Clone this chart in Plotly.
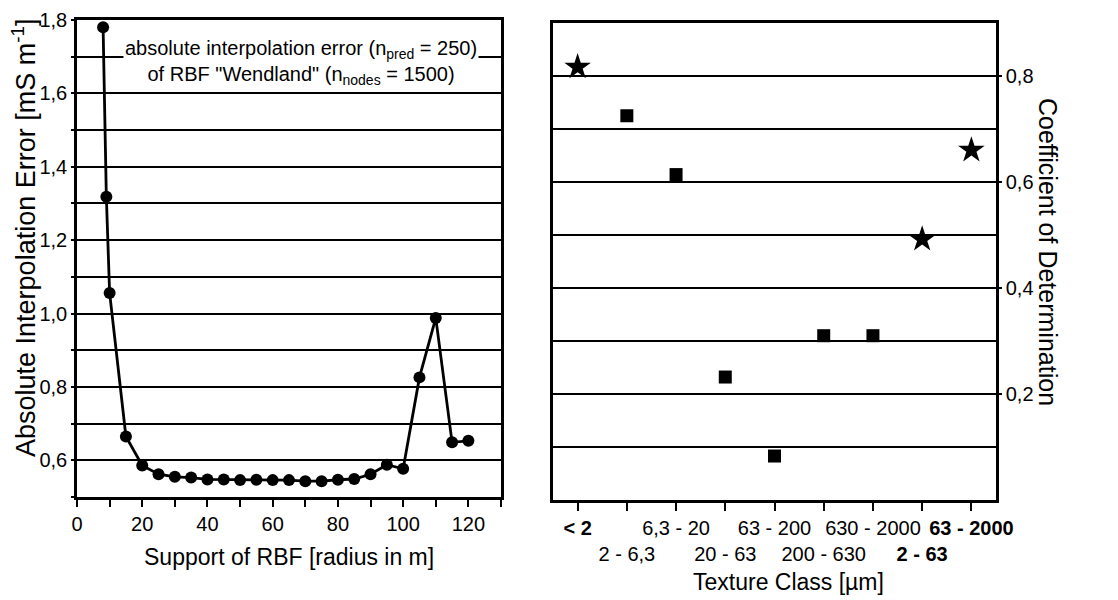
import plotly.graph_objects as go

# Left panel: support radius vs absolute interpolation error
radius = [8, 9, 10, 15, 20, 25, 30, 35, 40, 45, 50, 55, 60, 65, 70, 75, 80, 85, 90, 95, 100, 105, 110, 115, 120]
abs_error = [1.78, 1.318, 1.056, 0.665, 0.586, 0.562, 0.555, 0.553, 0.548, 0.548, 0.546, 0.547, 0.546, 0.546,
             0.543, 0.543, 0.547, 0.549, 0.562, 0.588, 0.577, 0.826, 0.988, 0.649, 0.653]

# Right panel: texture classes vs coefficient of determination
texture_classes = ["< 2", "2 - 6,3", "6,3 - 20", "20 - 63", "63 - 200", "200 - 630", "630 - 2000", "2 - 63", "63 - 2000"]
class_bold = [True, False, False, False, False, False, False, True, True]
class_row2 = [False, True, False, True, False, True, False, True, False]
r2_values = [0.817, 0.725, 0.614, 0.232, 0.083, 0.31, 0.31, 0.492, 0.66]
marker_kind = ["star", "square", "square", "square", "square", "square", "square", "star", "star"]

FONT = "Liberation Sans, Arial, sans-serif"
W, H = 1118, 600

fig = go.Figure()

fig.add_trace(go.Scatter(
    x=radius, y=abs_error, mode="lines+markers",
    line=dict(color="black", width=2.8),
    marker=dict(color="black", size=12, symbol="circle"),
    xaxis="x", yaxis="y", showlegend=False, cliponaxis=False))

idx = list(range(len(texture_classes)))
for kind, size in (("square", 13), ("star", 20)):
    xs = [i for i in idx if marker_kind[i] == kind]
    ys = [r2_values[i] for i in xs]
    fig.add_trace(go.Scatter(
        x=xs, y=ys, mode="markers",
        marker=dict(color="black", size=size, symbol=kind, line=dict(width=0)),
        xaxis="x2", yaxis="y2", showlegend=False, cliponaxis=False))

def lbl(i):
    t = texture_classes[i]
    if class_bold[i]:
        t = "<b>" + t + "</b>"
    if class_row2[i]:
        t = "\u00a0<br>" + t
    return t

axis_common = dict(showline=True, linecolor="black", linewidth=2.5, mirror=True,
                   gridcolor="black", gridwidth=1.5, zeroline=False, automargin=False,
                   tickfont=dict(family=FONT, size=20, color="black"),
                   ticks="outside", tickcolor="black", tickwidth=2)

fig.update_layout(
    template="none",
    width=W, height=H,
    margin=dict(l=0, r=0, t=0, b=0, pad=0),
    paper_bgcolor="white", plot_bgcolor="white",
    separators=", ",
    font=dict(family=FONT, color="black"),
    xaxis=dict(domain=[77 / W, 501 / W], anchor="y", range=[0, 130],
               dtick=20, tick0=0, showgrid=False, ticklen=7,
               minor=dict(dtick=10, ticks="outside", ticklen=7, tickcolor="black", tickwidth=2),
               **axis_common),
    yaxis=dict(domain=[1 - 497 / H, 1 - 20 / H], anchor="x", range=[0.5, 1.8],
               dtick=0.2, tick0=0, tickformat=".1f", ticklen=3, showgrid=True,
               minor=dict(dtick=0.1, showgrid=True, gridcolor="black", gridwidth=1.5,
                          ticks="outside", ticklen=3, tickcolor="black"),
               **axis_common),
    xaxis2=dict(domain=[553 / W, 996 / W], anchor="y2", range=[-0.5, 8.5],
                tickvals=idx, ticktext=[lbl(i) for i in idx], tickangle=0,
                showgrid=False, ticklen=8, **axis_common),
    yaxis2=dict(domain=[1 - 500 / H, 1 - 23 / H], anchor="x2", side="right", range=[0, 0.9],
                tickvals=[0.2, 0.4, 0.6, 0.8], tickformat=".1f", ticklen=3, showgrid=True,
                minor=dict(dtick=0.1, showgrid=True, gridcolor="black", gridwidth=1.5),
                **axis_common),
)

def ann(text, x, y, size, angle=0, **kw):
    return dict(text=text, x=x / W, y=1 - y / H, xref="paper", yref="paper",
                xanchor="center", yanchor="middle", showarrow=False, textangle=angle,
                font=dict(family=FONT, size=size, color="black"), **kw)

annots = [
    ann("absolute interpolation error (n<sub>pred</sub> = 250)<br>of RBF \"Wendland\" (n<sub>nodes</sub> = 1500)",
        301, 63, 20, align="center", bgcolor="white"),
    ann("Absolute Interpolation Error [mS m<sup>-1</sup>]", 24, 238, 27, angle=-90),
    ann("Support of RBF [radius in m]", 289, 557, 23),
    ann("Coefficient of Determination", 1048, 252, 25, angle=90),
    ann("Texture Class [\u00b5m]", 788, 582, 23),
]
fig.update_layout(annotations=annots)

fig.write_html("out.html", config={"displayModeBar": False},
               post_script="document.body.style.margin='0';")
